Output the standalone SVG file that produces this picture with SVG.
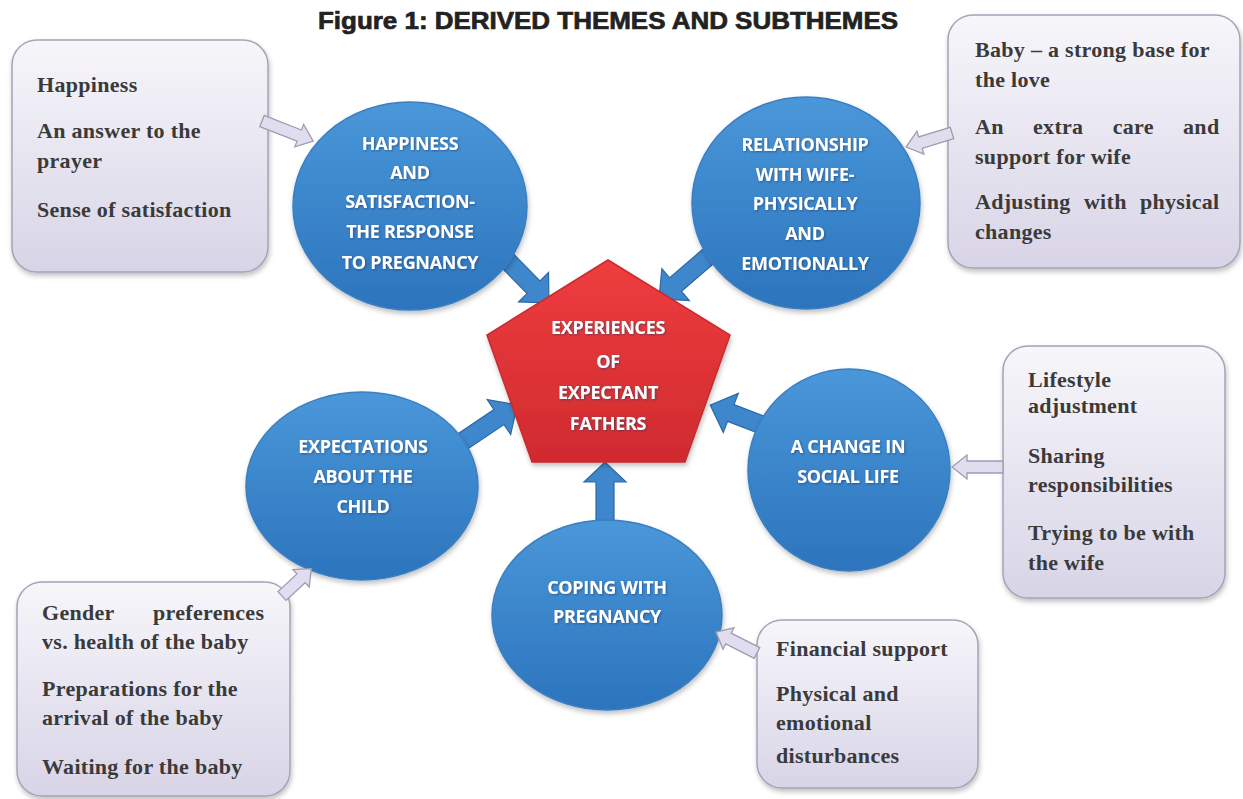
<svg xmlns="http://www.w3.org/2000/svg" width="1243" height="799" viewBox="0 0 1243 799">
<defs>
  <linearGradient id="boxGrad" x1="0" y1="0" x2="0" y2="1">
    <stop offset="0" stop-color="#f7f6fa"/>
    <stop offset="1" stop-color="#d8d4e7"/>
  </linearGradient>
  <linearGradient id="blueGrad" x1="0" y1="0" x2="0" y2="1">
    <stop offset="0" stop-color="#4a97d9"/>
    <stop offset="1" stop-color="#2c74bd"/>
  </linearGradient>
  <linearGradient id="redGrad" x1="0" y1="0" x2="0" y2="1">
    <stop offset="0" stop-color="#ee3d3f"/>
    <stop offset="1" stop-color="#d02b2f"/>
  </linearGradient>
  <filter id="shadow" x="-10%" y="-10%" width="120%" height="125%">
    <feDropShadow dx="1" dy="3" stdDeviation="2.5" flood-color="#000" flood-opacity="0.25"/>
  </filter>
  <filter id="tshadow" x="-5%" y="-20%" width="110%" height="150%">
    <feDropShadow dx="1" dy="1" stdDeviation="0.8" flood-color="#1a3d66" flood-opacity="0.6"/>
  </filter>
</defs>
<style>
  .title { font-family: "Liberation Sans", Arial, sans-serif; font-weight: bold; font-size: 24px; fill: #222; stroke: #222; stroke-width: 0.7px; }
  .box { fill: url(#boxGrad); stroke: #a5a3b6; stroke-width: 1.5; filter: url(#shadow); }
  .btxt { font-family: "Liberation Serif", "Times New Roman", serif; font-weight: bold; font-size: 22px; fill: #3a3a3a; letter-spacing: 0.3px; }
  .circle { fill: url(#blueGrad); stroke: #3b7fc1; stroke-width: 1.5; filter: url(#shadow); }
  .ctxt { font-family: "Open Sans", "Liberation Sans", sans-serif; font-weight: bold; font-size: 18px; fill: #ffffff; text-anchor: middle; letter-spacing: -0.3px; filter: url(#tshadow); }
  .pent { fill: url(#redGrad); stroke: #c92a2e; stroke-width: 1.5; filter: url(#shadow); }
  .barrow { fill: #3f87cd; stroke: #2c68a6; stroke-width: 1.2; }
  .larrow { fill: #e1ddee; stroke: #9e9bb2; stroke-width: 1.3; }
</style>
<rect width="1243" height="799" fill="#ffffff"/>
<text class="title" x="318" y="29" textLength="580" lengthAdjust="spacingAndGlyphs">Figure 1: DERIVED THEMES AND SUBTHEMES</text>

<g id="connectors-thick">
  <path class="barrow" transform="translate(495,248) rotate(45.5)" d="M0,-9 L55,-9 L55,-21 L77,0 L55,21 L55,9 L0,9 Z"/>
  <path class="barrow" transform="translate(718,248) rotate(139.2)" d="M0,-9 L56,-9 L56,-21 L78,0 L56,21 L56,9 L0,9 Z"/>
  <path class="barrow" transform="translate(450,450) rotate(-33.9)" d="M0,-9 L59,-9 L59,-21 L81,0 L59,21 L59,9 L0,9 Z"/>
  <path class="barrow" transform="translate(770,428) rotate(201)" d="M0,-9 L42,-9 L42,-21 L64,0 L42,21 L42,9 L0,9 Z"/>
  <path class="barrow" transform="translate(605,530) rotate(-90)" d="M0,-9 L48,-9 L48,-21 L68,0 L48,21 L48,9 L0,9 Z"/>
</g>

<g id="node-center">
  <polygon class="pent" points="608,260 730,335 685,462 532,462 487,335"/>
  <text class="ctxt" x="608" y="334">EXPERIENCES</text>
  <text class="ctxt" x="608" y="368">OF</text>
  <text class="ctxt" x="608" y="399">EXPECTANT</text>
  <text class="ctxt" x="608" y="430">FATHERS</text>
</g>

<g id="node-happiness">
  <ellipse class="circle" cx="410" cy="206" rx="117" ry="104"/>
  <text class="ctxt" x="410" y="150">HAPPINESS</text>
  <text class="ctxt" x="410" y="179">AND</text>
  <text class="ctxt" x="410" y="208">SATISFACTION-</text>
  <text class="ctxt" x="410" y="238">THE RESPONSE</text>
  <text class="ctxt" x="410" y="269">TO PREGNANCY</text>
</g>

<g id="node-relationship">
  <ellipse class="circle" cx="806" cy="203" rx="114" ry="106"/>
  <text class="ctxt" x="805" y="151">RELATIONSHIP</text>
  <text class="ctxt" x="805" y="181">WITH WIFE-</text>
  <text class="ctxt" x="805" y="210">PHYSICALLY</text>
  <text class="ctxt" x="805" y="240">AND</text>
  <text class="ctxt" x="805" y="270">EMOTIONALLY</text>
</g>

<g id="node-expectations">
  <ellipse class="circle" cx="362" cy="486" rx="116" ry="94"/>
  <text class="ctxt" x="363" y="453">EXPECTATIONS</text>
  <text class="ctxt" x="363" y="483">ABOUT THE</text>
  <text class="ctxt" x="363" y="513">CHILD</text>
</g>

<g id="node-social">
  <ellipse class="circle" cx="849" cy="470" rx="101" ry="101"/>
  <text class="ctxt" x="848" y="453">A CHANGE IN</text>
  <text class="ctxt" x="848" y="483">SOCIAL LIFE</text>
</g>

<g id="node-coping">
  <ellipse class="circle" cx="607" cy="615" rx="115" ry="95"/>
  <text class="ctxt" x="607" y="594">COPING WITH</text>
  <text class="ctxt" x="607" y="623">PREGNANCY</text>
</g>

<g id="box-happiness">
  <rect class="box" x="12" y="40" width="256" height="232" rx="25"/>
  <text class="btxt" x="37" y="92">Happiness</text>
  <text class="btxt" x="37" y="138">An answer to the</text>
  <text class="btxt" x="37" y="168">prayer</text>
  <text class="btxt" x="37" y="217">Sense of satisfaction</text>
</g>

<g id="box-relationship">
  <rect class="box" x="948" y="15" width="292" height="253" rx="25"/>
  <text class="btxt" x="975" y="57">Baby – a strong base for</text>
  <text class="btxt" x="975" y="87">the love</text>
  <text class="btxt" x="975" y="134" word-spacing="23.5">An extra care and</text>
  <text class="btxt" x="975" y="164">support for wife</text>
  <text class="btxt" x="975" y="209" word-spacing="7.5">Adjusting with physical</text>
  <text class="btxt" x="975" y="239">changes</text>
</g>

<g id="box-social">
  <rect class="box" x="1003" y="346" width="222" height="252" rx="25"/>
  <text class="btxt" x="1028" y="387">Lifestyle</text>
  <text class="btxt" x="1028" y="413">adjustment</text>
  <text class="btxt" x="1028" y="463">Sharing</text>
  <text class="btxt" x="1028" y="492">responsibilities</text>
  <text class="btxt" x="1028" y="540">Trying to be with</text>
  <text class="btxt" x="1028" y="570">the wife</text>
</g>

<g id="box-expectations">
  <rect class="box" x="17" y="582" width="273" height="214" rx="25"/>
  <text class="btxt" x="42" y="620" word-spacing="33">Gender preferences</text>
  <text class="btxt" x="42" y="649">vs. health of the baby</text>
  <text class="btxt" x="42" y="696">Preparations for the</text>
  <text class="btxt" x="42" y="725">arrival of the baby</text>
  <text class="btxt" x="42" y="774">Waiting for the baby</text>
</g>

<g id="box-coping">
  <rect class="box" x="757" y="620" width="221" height="168" rx="25"/>
  <text class="btxt" x="776" y="656">Financial support</text>
  <text class="btxt" x="776" y="701">Physical and</text>
  <text class="btxt" x="776" y="730">emotional</text>
  <text class="btxt" x="776" y="763">disturbances</text>
</g>

<g id="connectors-light">
  <path class="larrow" transform="translate(262,121) rotate(21.4)" d="M0,-6 L40,-6 L40,-12 L55,0 L40,12 L40,6 L0,6 Z"/>
  <path class="larrow" transform="translate(952,133) rotate(163)" d="M0,-6 L33,-6 L33,-12 L48,0 L33,12 L33,6 L0,6 Z"/>
  <path class="larrow" transform="translate(1003,467) rotate(180)" d="M0,-6 L36,-6 L36,-12 L51,0 L36,12 L36,6 L0,6 Z"/>
  <path class="larrow" transform="translate(757,653) rotate(207)" d="M0,-6 L32,-6 L32,-12 L46,0 L32,12 L32,6 L0,6 Z"/>
  <path class="larrow" transform="translate(282,596) rotate(-43)" d="M0,-6 L26,-6 L26,-12 L40,0 L26,12 L26,6 L0,6 Z"/>
</g>
</svg>
